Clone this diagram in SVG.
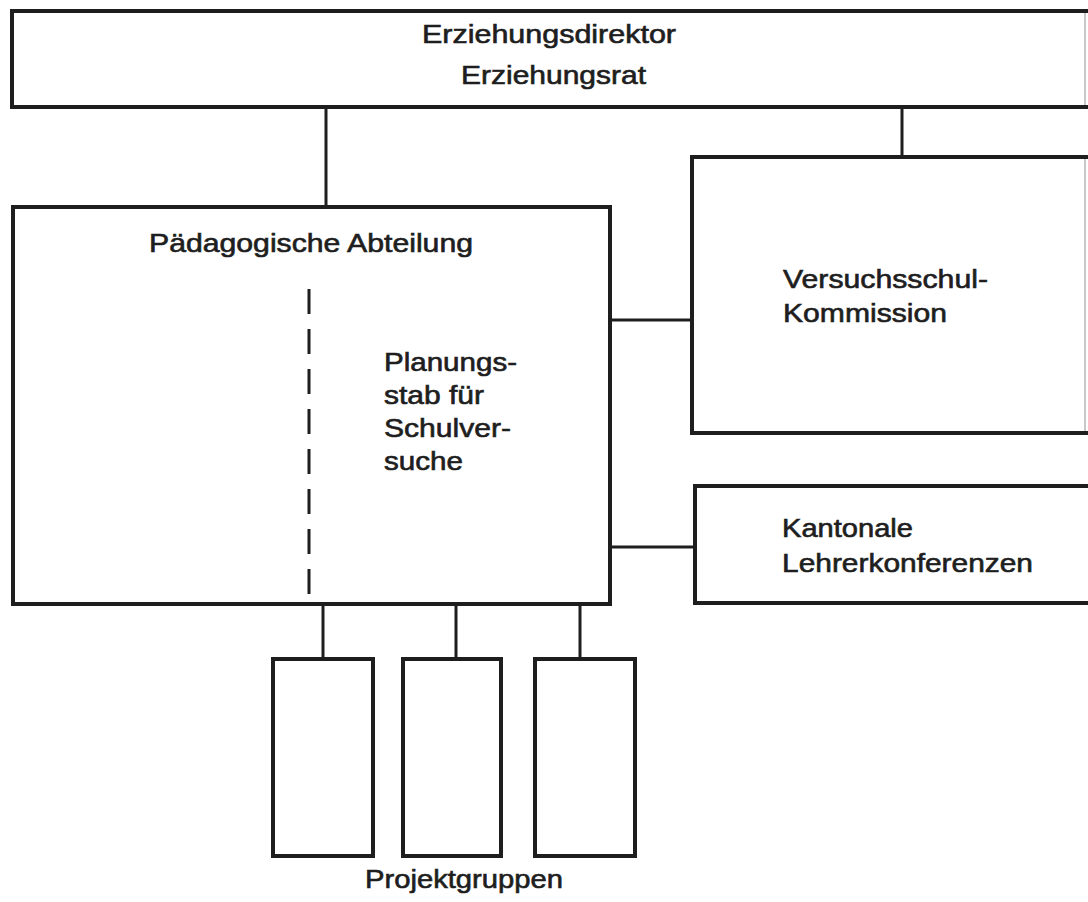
<svg xmlns="http://www.w3.org/2000/svg" width="1088" height="902" viewBox="0 0 1088 902">
<style>
.box{fill:none;stroke:#1e1e1e;stroke-width:4;stroke-linejoin:miter;stroke-linecap:square}
.edge{fill:none;stroke:#c8c8c8;stroke-width:2}
.con{fill:none;stroke:#1e1e1e;stroke-width:3}
.dash{fill:none;stroke:#1e1e1e;stroke-width:3;stroke-dasharray:25 15}
text{font-family:"Liberation Sans",Arial,sans-serif;font-size:25px;fill:#1e1e1e;stroke:#1e1e1e;stroke-width:0.6}
</style>
<rect width="1088" height="902" fill="#ffffff"/>
<g id="connectors">
<line class="con" x1="326" y1="107" x2="326" y2="207"/>
<line class="con" x1="902" y1="107" x2="902" y2="157"/>
<line class="con" x1="610" y1="320" x2="692" y2="320"/>
<line class="con" x1="610" y1="547" x2="695" y2="547"/>
<line class="con" x1="323" y1="604" x2="323" y2="659"/>
<line class="con" x1="456" y1="604" x2="456" y2="659"/>
<line class="con" x1="580" y1="604" x2="580" y2="659"/>
</g>
<g id="erziehungsdirektor">
<path class="box" d="M1088 11 H12 V107 H1088"/>
<line class="edge" x1="1085" y1="13" x2="1085" y2="105"/>
<text x="422" y="43" textLength="254" lengthAdjust="spacingAndGlyphs">Erziehungsdirektor</text>
<text x="461" y="84" textLength="185" lengthAdjust="spacingAndGlyphs">Erziehungsrat</text>
</g>
<g id="paedagogische-abteilung">
<rect class="box" x="13" y="207" width="597" height="397"/>
<text x="149" y="252" textLength="324" lengthAdjust="spacingAndGlyphs">Pädagogische Abteilung</text>
<line class="dash" x1="309" y1="289" x2="309" y2="597"/>
<text x="384" y="371" textLength="133" lengthAdjust="spacingAndGlyphs">Planungs-</text>
<text x="384" y="404" textLength="100" lengthAdjust="spacingAndGlyphs">stab für</text>
<text x="384" y="437" textLength="127" lengthAdjust="spacingAndGlyphs">Schulver-</text>
<text x="384" y="470" textLength="79" lengthAdjust="spacingAndGlyphs">suche</text>
</g>
<g id="versuchsschul-kommission">
<path class="box" d="M1088 157 H692 V433 H1088"/>
<line class="edge" x1="1085" y1="159" x2="1085" y2="431"/>
<text x="783" y="288" textLength="205" lengthAdjust="spacingAndGlyphs">Versuchsschul-</text>
<text x="783" y="322" textLength="164" lengthAdjust="spacingAndGlyphs">Kommission</text>
</g>
<g id="kantonale-lehrerkonferenzen">
<path class="box" d="M1088 486 H695 V603 H1088"/>
<text x="782" y="537" textLength="131" lengthAdjust="spacingAndGlyphs">Kantonale</text>
<text x="782" y="572" textLength="251" lengthAdjust="spacingAndGlyphs">Lehrerkonferenzen</text>
</g>
<g id="projektgruppe-1"><rect class="box" x="273" y="659" width="100" height="197"/></g>
<g id="projektgruppe-2"><rect class="box" x="403" y="659" width="98" height="197"/></g>
<g id="projektgruppe-3"><rect class="box" x="535" y="659" width="100" height="197"/></g>
<g id="projektgruppen-label">
<text x="365" y="888" textLength="198" lengthAdjust="spacingAndGlyphs">Projektgruppen</text>
</g>
</svg>
